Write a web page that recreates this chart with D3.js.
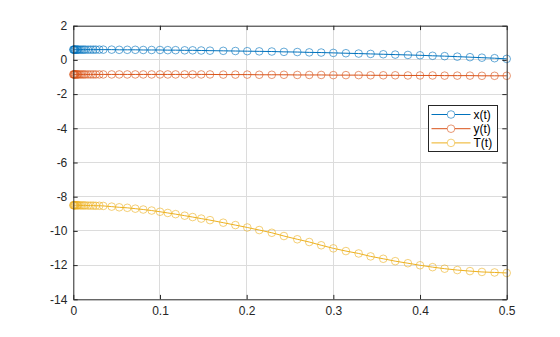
<!DOCTYPE html>
<html>
<head>
<meta charset="utf-8">
<script src="https://cdn.jsdelivr.net/npm/d3@7"></script>
<style>
  html, body { margin: 0; padding: 0; background: #fff; }
  svg { display: block; font-family: "Liberation Sans", Arial, sans-serif; }
</style>
</head>
<body>
<svg id="chart" width="560" height="337"></svg>
<script>
// Solver output times
const tValues = [0, 0.0005, 0.001, 0.0015, 0.002, 0.003, 0.004, 0.005, 0.006, 0.008,
  0.010, 0.012, 0.014, 0.017, 0.020, 0.023, 0.026, 0.030,
  0.0346, 0.0443, 0.053, 0.0623, 0.0715, 0.0807, 0.0904, 0.100, 0.109, 0.118,
  0.1285, 0.1377, 0.1476, 0.1577,
  0.173, 0.187, 0.2007, 0.2145, 0.229, 0.243, 0.2584, 0.2722, 0.286, 0.300,
  0.3145, 0.3292, 0.343, 0.3576, 0.3714, 0.386, 0.400, 0.4145, 0.4284, 0.443,
  0.4576, 0.4714, 0.486, 0.500];

const xValues = [0.60, 0.60, 0.60, 0.60, 0.60, 0.60, 0.60, 0.60, 0.60, 0.60,
  0.60, 0.60, 0.60, 0.60, 0.60, 0.60, 0.60, 0.60,
  0.60, 0.60, 0.59, 0.59, 0.59, 0.58, 0.58, 0.58, 0.57, 0.57,
  0.56, 0.56, 0.55, 0.54,
  0.53, 0.52, 0.51, 0.50, 0.49, 0.47, 0.46, 0.44, 0.43, 0.41,
  0.39, 0.37, 0.35, 0.33, 0.31, 0.29, 0.27, 0.24, 0.22, 0.19,
  0.16, 0.13, 0.10, 0.06];

const yValues = [-0.85, -0.85, -0.85, -0.85, -0.85, -0.85, -0.85, -0.85, -0.85, -0.85,
  -0.85, -0.85, -0.85, -0.85, -0.85, -0.85, -0.85, -0.85,
  -0.85, -0.85, -0.85, -0.85, -0.85, -0.85, -0.85, -0.85, -0.85, -0.85,
  -0.85, -0.85, -0.85, -0.85,
  -0.86, -0.86, -0.86, -0.87, -0.87, -0.87, -0.88, -0.88, -0.88, -0.89,
  -0.89, -0.89, -0.90, -0.90, -0.90, -0.91, -0.91, -0.91, -0.92, -0.92,
  -0.92, -0.93, -0.93, -0.93];

const TValues = [-8.50, -8.50, -8.50, -8.50, -8.50, -8.50, -8.50, -8.50, -8.50, -8.51,
  -8.51, -8.51, -8.51, -8.52, -8.52, -8.52, -8.53, -8.53,
  -8.54, -8.58, -8.62, -8.65, -8.70, -8.75, -8.81, -8.88, -8.95, -9.02,
  -9.11, -9.19, -9.28, -9.37,
  -9.52, -9.66, -9.80, -9.95, -10.11, -10.30, -10.49, -10.65, -10.84, -11.02,
  -11.18, -11.32, -11.49, -11.63, -11.77, -11.89, -12.01, -12.12, -12.21, -12.29,
  -12.35, -12.40, -12.43, -12.46];

const seriesNames = ["x(t)", "y(t)", "T(t)"];
const seriesColors = ["#0072BD", "#D95319", "#EDB120"];
const xTicks = [0, 0.1, 0.2, 0.3, 0.4, 0.5];
const yTicks = [2, 0, -2, -4, -6, -8, -10, -12, -14];

const svg = d3.select("#chart");
const plot = { left: 73.3, right: 506.7, top: 25.7, bottom: 299.3 };

const x = d3.scaleLinear().domain([0, 0.5]).range([plot.left, plot.right]);
const y = d3.scaleLinear().domain([-14, 2]).range([plot.bottom, plot.top]);

const axisColor = "#262626";
const gridColor = "#dcdcdc";
const fontSize = 12;

// grid
const grid = svg.append("g");
grid.selectAll("line.gx").data(xTicks.slice(1, -1)).enter().append("line")
  .attr("x1", d => x(d)).attr("x2", d => x(d))
  .attr("y1", plot.top).attr("y2", plot.bottom)
  .attr("stroke", gridColor).attr("stroke-width", 1).attr("shape-rendering", "crispEdges");
grid.selectAll("line.gy").data(yTicks.slice(1, -1)).enter().append("line")
  .attr("y1", d => y(d)).attr("y2", d => y(d))
  .attr("x1", plot.left).attr("x2", plot.right)
  .attr("stroke", gridColor).attr("stroke-width", 1).attr("shape-rendering", "crispEdges");

// series: line with open circle markers at every solver step
const series = [xValues, yValues, TValues];
const line = d3.line().x((d, i) => x(tValues[i])).y(d => y(d));
series.forEach((vals, k) => {
  const g = svg.append("g");
  g.append("path").datum(vals)
    .attr("d", line)
    .attr("fill", "none")
    .attr("stroke", seriesColors[k])
    .attr("stroke-width", 1);
  g.selectAll("circle").data(vals).enter().append("circle")
    .attr("cx", (d, i) => x(tValues[i]))
    .attr("cy", d => y(d))
    .attr("r", 3.8)
    .attr("fill", "none")
    .attr("stroke", seriesColors[k])
    .attr("stroke-opacity", 0.6)
    .attr("stroke-width", 1);
});

// axes (box with inward ticks on all four sides)
const tickLen = 4.4;
const axisBottom = d3.axisBottom(x).tickValues(xTicks).tickSizeInner(-tickLen).tickSizeOuter(0)
  .tickPadding(7).tickFormat(d => d === 0 ? "0" : d3.format(".1f")(d));
const axisTop = d3.axisTop(x).tickValues(xTicks).tickSizeInner(-tickLen).tickSizeOuter(0).tickFormat("");
const axisLeft = d3.axisLeft(y).tickValues(yTicks).tickSizeInner(-tickLen).tickSizeOuter(0)
  .tickPadding(6).tickFormat(d => String(d));
const axisRight = d3.axisRight(y).tickValues(yTicks).tickSizeInner(-tickLen).tickSizeOuter(0).tickFormat("");

function styleAxis(g) {
  g.select(".domain").attr("stroke", axisColor).attr("stroke-width", 1);
  g.selectAll(".tick line").attr("stroke", axisColor).attr("stroke-width", 1);
  g.selectAll(".tick text").attr("fill", axisColor).attr("font-size", fontSize)
    .attr("font-family", "Liberation Sans, Arial, sans-serif");
}
svg.append("g").attr("transform", `translate(0,${plot.bottom})`).call(axisBottom).call(styleAxis);
svg.append("g").attr("transform", `translate(0,${plot.top})`).call(axisTop).call(styleAxis);
svg.append("g").attr("transform", `translate(${plot.left},0)`).call(axisLeft).call(styleAxis);
svg.append("g").attr("transform", `translate(${plot.right},0)`).call(axisRight).call(styleAxis);

// legend
const legend = svg.append("g").attr("transform", "translate(428.5,105.5)");
legend.append("rect").attr("width", 69).attr("height", 46)
  .attr("fill", "#fff").attr("stroke", axisColor).attr("stroke-width", 1);
seriesNames.forEach((name, k) => {
  const cy = 9 + k * 14.2;
  legend.append("line").attr("x1", 3).attr("x2", 42).attr("y1", cy).attr("y2", cy)
    .attr("stroke", seriesColors[k]).attr("stroke-width", 1);
  legend.append("circle").attr("cx", 22.5).attr("cy", cy).attr("r", 3.8)
    .attr("fill", "#fff").attr("stroke", seriesColors[k])
    .attr("stroke-opacity", 0.6).attr("stroke-width", 1);
  legend.append("text").attr("x", 45).attr("y", cy).attr("dy", "0.35em")
    .attr("font-size", 12).attr("fill", "#000").text(name);
});
</script>
</body>
</html>
